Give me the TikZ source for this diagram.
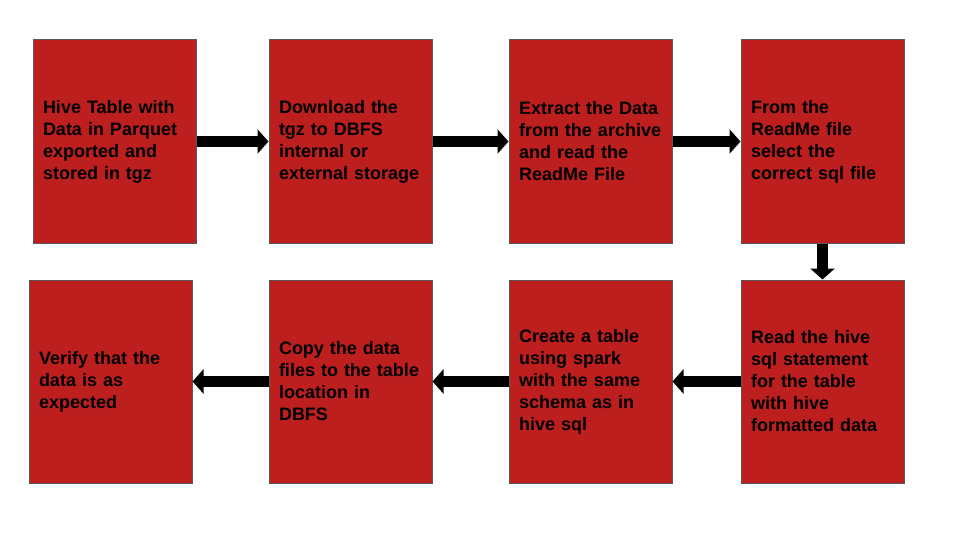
\documentclass[tikz,border=0pt]{standalone}
\usepackage{fontspec}
\setmainfont{Liberation Sans}
\usetikzlibrary{arrows.meta,positioning}
\definecolor{boxred}{RGB}{189,30,30}
\definecolor{boxgrey}{RGB}{90,90,90}

\begin{document}
\begin{tikzpicture}[
    box/.style={rectangle,draw=boxgrey,line width=1pt,fill=boxred,
        minimum width=163pt,minimum height=203pt,inner xsep=10pt,
        text width=143pt,align=left,
        font=\fontsize{18pt}{22pt}\selectfont\bfseries},
    arrow/.style={line width=11pt,-{Triangle[width=24pt,length=11pt]}}
]
\useasboundingbox (0,0) rectangle (960pt,-540pt);

% Top row
\node[box] (hive) at (114.5pt,-141.5pt) {Hive Table with\\Data in Parquet\\exported and\\stored in tgz};
\node[box,right=72pt of hive] (download) {Download the\\tgz to DBFS\\internal or\\external storage};
\node[box,right=76pt of download] (extract) {Extract the Data\\from the archive\\and read the\\ReadMe File};
\node[box,right=68pt of extract] (readme) {From the\\ReadMe file\\select the\\correct sql file};

% Bottom row
\node[box,below=36pt of readme] (readsql) {Read the hive\\sql statement\\for the table\\with hive\\formatted data};
\node[box,left=68pt of readsql] (create) {Create a table\\using spark\\with the same\\schema as in\\hive sql};
\node[box,left=76pt of create] (copy) {Copy the data\\files to the table\\location in\\DBFS};
\node[box,left=76pt of copy] (verify) {Verify that the\\data is as\\expected};

% Arrows
\draw[arrow] (hive) -- (download);
\draw[arrow] (download) -- (extract);
\draw[arrow] (extract) -- (readme);
\draw[arrow] (readme) -- (readsql);
\draw[arrow] (readsql) -- (create);
\draw[arrow] (create) -- (copy);
\draw[arrow] (copy) -- (verify);

\end{tikzpicture}
\end{document}
